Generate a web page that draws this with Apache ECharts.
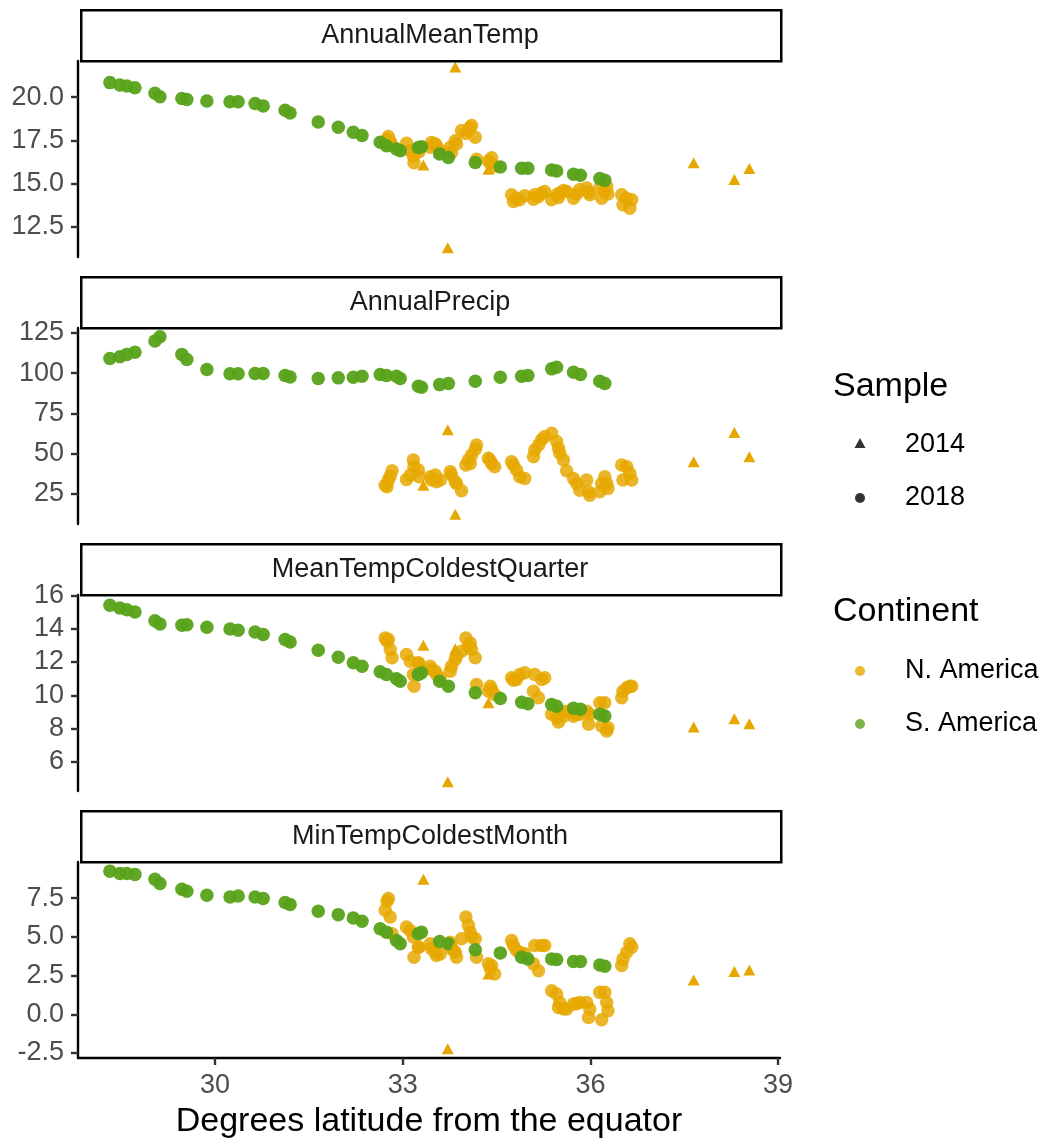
<!DOCTYPE html>
<html>
<head>
<meta charset="utf-8">
<script src="https://cdn.jsdelivr.net/npm/echarts/dist/echarts.min.js"></script>
<style>
html,body{margin:0;padding:0;background:#ffffff;}
#chart{width:1046px;height:1143px;}
</style>
</head>
<body>
<div id="chart"></div>
<script>
// ---------------- DATA ----------------
const facets = ["AnnualMeanTemp", "AnnualPrecip", "MeanTempColdestQuarter", "MinTempColdestMonth"];
const xTicks = [30, 33, 36, 39];
const yTicksAnnualMeanTemp = [12.5, 15.0, 17.5, 20.0];
const yTicksAnnualPrecip = [25, 50, 75, 100, 125];
const yTicksMeanTempColdestQuarter = [6, 8, 10, 12, 14, 16];
const yTicksMinTempColdestMonth = [-2.5, 0.0, 2.5, 5.0, 7.5];

// S. America, 2018 sample
const latSA = [28.32, 28.48, 28.59, 28.72, 29.04, 29.12, 29.47, 29.55, 29.87, 30.24, 30.37, 30.64, 30.77, 31.12, 31.20, 31.65, 31.97, 32.21, 32.35, 32.64, 32.74, 32.90, 32.96, 33.25, 33.30, 33.59, 33.73, 34.16, 34.56, 34.90, 35.00, 35.38, 35.46, 35.73, 35.84, 36.15, 36.23];
const saAnnualMeanTemp = [20.84, 20.70, 20.64, 20.54, 20.22, 20.02, 19.92, 19.87, 19.78, 19.73, 19.73, 19.63, 19.49, 19.24, 19.08, 18.56, 18.26, 17.97, 17.78, 17.39, 17.19, 17.00, 16.90, 17.09, 17.13, 16.71, 16.51, 16.22, 15.96, 15.89, 15.89, 15.79, 15.73, 15.54, 15.48, 15.30, 15.19];
const saAnnualPrecip = [109.2, 110.2, 111.7, 113.1, 120.0, 122.7, 111.7, 108.5, 102.3, 99.6, 99.6, 99.8, 99.8, 98.6, 97.7, 96.7, 97.1, 97.5, 98.1, 99.2, 98.6, 98.1, 96.7, 91.9, 91.3, 92.9, 93.6, 95.0, 97.5, 98.1, 98.6, 102.7, 103.7, 100.6, 99.2, 95.0, 93.6];
const saMeanTempColdestQuarter = [15.40, 15.24, 15.14, 15.00, 14.48, 14.28, 14.20, 14.24, 14.08, 13.98, 13.90, 13.80, 13.65, 13.35, 13.20, 12.70, 12.29, 11.95, 11.75, 11.41, 11.25, 10.99, 10.85, 11.25, 11.35, 10.85, 10.55, 10.15, 9.81, 9.59, 9.49, 9.45, 9.35, 9.22, 9.16, 8.86, 8.76];
const saMinTempColdestMonth = [9.25, 9.10, 9.10, 9.04, 8.73, 8.45, 8.08, 7.95, 7.69, 7.58, 7.65, 7.58, 7.48, 7.22, 7.09, 6.66, 6.44, 6.22, 6.01, 5.53, 5.31, 4.77, 4.56, 5.21, 5.31, 4.71, 4.56, 4.17, 3.97, 3.69, 3.58, 3.58, 3.54, 3.41, 3.41, 3.19, 3.10];

// N. America, 2018 sample
const latNA = [
  32.72, 32.75, 32.77, 32.80, 32.83,
  33.06, 33.12, 33.17, 33.18, 33.25, 33.26,
  33.44, 33.46, 33.52, 33.54, 33.60,
  33.76, 33.78, 33.84, 33.86, 33.94,
  34.01, 34.05, 34.08, 34.10, 34.16, 34.18,
  34.37, 34.40, 34.42, 34.47,
  34.74, 34.77, 34.82, 34.87, 34.95,
  35.09, 35.11, 35.17, 35.22, 35.27, 35.38, 35.46, 35.49, 35.51, 35.57,
  35.62, 35.73, 35.78, 35.83, 35.94, 35.97, 35.99, 36.15, 36.18, 36.23, 36.26, 36.28,
  36.50, 36.52, 36.58, 36.63, 36.66];
const naAnnualMeanTemp = [
  17.38, 17.55, 17.72, 17.45, 17.20,
  17.33, 16.90, 16.60, 16.21, 17.00, 16.85,
  17.10, 17.38, 17.30, 17.19, 16.90,
  17.10, 16.80, 17.48, 17.29, 18.07,
  17.90, 18.10, 18.26, 18.36, 17.68, 16.41,
  16.31, 16.20, 16.50, 16.00,
  14.36, 13.97, 14.16, 14.07, 14.30,
  14.10, 14.36, 14.25, 14.46, 14.55, 14.07, 14.36, 14.20, 14.46, 14.60,
  14.55, 14.16, 14.40, 14.66, 14.75, 14.50, 14.36, 14.75, 14.16, 14.55, 14.85, 14.40,
  14.36, 13.78, 14.16, 13.58, 14.07];
const naAnnualPrecip = [
  30.4, 29.4, 33.6, 36.0, 39.4,
  33.9, 36.7, 46.1, 41.9, 39.8, 35.6,
  35.6, 33.6, 36.7, 32.5, 33.6,
  38.8, 36.7, 32.5, 31.4, 26.9,
  43.0, 46.0, 43.9, 49.2, 52.7, 55.4,
  47.1, 45.5, 43.9, 41.9,
  45.0, 42.9, 39.8, 35.6, 34.6,
  48.1, 52.3, 55.4, 58.6, 60.6, 62.7, 57.5, 53.3, 50.2, 46.1,
  39.4, 34.6, 31.4, 27.3, 33.6, 26.3, 24.2, 26.3, 31.4, 35.6, 31.4, 28.3,
  42.9, 33.6, 41.9, 37.7, 33.6];
const naMeanTempColdestQuarter = [
  13.44, 13.25, 13.35, 12.75, 12.25,
  12.45, 12.05, 11.25, 10.55, 11.95, 11.89,
  11.75, 11.55, 11.45, 11.25, 11.05,
  11.45, 11.75, 12.15, 12.35, 12.65,
  13.44, 12.95, 13.14, 12.75, 12.25, 10.65,
  10.25, 10.55, 10.35, 10.05,
  11.05, 10.90, 10.95, 11.25, 11.35,
  10.25, 11.25, 9.85, 10.95, 11.05, 8.86, 8.65, 8.40, 9.00, 8.75,
  9.05, 8.75, 8.86, 8.86, 9.05, 8.26, 8.86, 9.55, 8.16, 9.55, 7.86, 8.05,
  9.85, 10.25, 10.45, 10.55, 10.55];
const naMinTempColdestMonth = [
  6.72, 7.30, 7.48, 6.29, 5.21,
  5.64, 5.42, 4.99, 3.69, 4.34, 4.34,
  4.56, 4.23, 4.01, 3.80, 3.90,
  4.66, 4.23, 4.01, 3.69, 4.88,
  6.29, 5.75, 5.31, 5.00, 4.88, 3.69,
  3.26, 2.94, 3.15, 2.61,
  4.77, 4.45, 4.12, 4.01, 3.91,
  3.26, 4.45, 2.82, 4.45, 4.45, 1.53, 1.31, 0.44, 0.77, 0.34,
  0.34, 0.66, 0.70, 0.77, 0.77, -0.20, 0.34, 1.42, -0.35, 1.42, 0.77, 0.23,
  3.15, 3.58, 4.01, 4.56, 4.34];

// N. America, 2014 sample
const lat2014 = [33.33, 33.72, 33.84, 34.37, 37.65, 38.30, 38.54];
const s14AnnualMeanTemp = [16.08, 11.29, 21.74, 15.83, 16.21, 15.24, 15.88];
const s14AnnualPrecip = [30.4, 64.8, 12.3, 48.1, 45.0, 63.1, 48.1];
const s14MeanTempColdestQuarter = [13.0, 4.82, 12.8, 9.55, 8.10, 8.59, 8.29];
const s14MinTempColdestMonth = [8.73, -2.22, 4.40, 2.61, 2.22, 2.76, 2.87];

// ---------------- LAYOUT / STYLE ----------------
const ORANGE = '#E6A800';
const GREEN = '#58A21A';
const FONT = '"Liberation Sans", Arial, Helvetica, sans-serif';
const panelTops = [61, 328, 595, 862];
const panelH = 196;
const panelLeft = 78;
const panelW = 702;
const xMin = 27.81, xMax = 39.03;
const yRanges = [[10.76, 22.09], [6.25, 128.1], [4.26, 16.02], [-2.82, 9.84]];
const yTicks = [yTicksAnnualMeanTemp, yTicksAnnualPrecip, yTicksMeanTempColdestQuarter, yTicksMinTempColdestMonth];
const yFmt = [v => v.toFixed(1), v => String(v), v => String(v), v => v.toFixed(1)];
const naVals = [naAnnualMeanTemp, naAnnualPrecip, naMeanTempColdestQuarter, naMinTempColdestMonth];
const saVals = [saAnnualMeanTemp, saAnnualPrecip, saMeanTempColdestQuarter, saMinTempColdestMonth];
const s14Vals = [s14AnnualMeanTemp, s14AnnualPrecip, s14MeanTempColdestQuarter, s14MinTempColdestMonth];

const grids = [], xAxes = [], yAxes = [], series = [], graphics = [];
for (let i = 0; i < 4; i++) {
  const last = i === 3;
  grids.push({left: panelLeft, top: panelTops[i], width: panelW, height: panelH, containLabel: false});
  xAxes.push({
    type: 'value', gridIndex: i, min: xMin, max: xMax,
    axisLine: {show: last, onZero: false, lineStyle: {color: '#000', width: 2.4}},
    axisTick: {show: last, length: 7, customValues: xTicks, lineStyle: {color: '#333', width: 2.4}},
    axisLabel: {show: last, customValues: xTicks, margin: 14, color: '#4D4D4D', fontSize: 27, fontFamily: FONT},
    splitLine: {show: false}
  });
  yAxes.push({
    type: 'value', gridIndex: i, min: yRanges[i][0], max: yRanges[i][1],
    axisLine: {show: true, onZero: false, lineStyle: {color: '#000', width: 2.4}},
    axisTick: {show: true, length: 7, customValues: yTicks[i], lineStyle: {color: '#333', width: 2.4}},
    axisLabel: {show: true, customValues: yTicks[i], formatter: yFmt[i], margin: 14, color: '#4D4D4D', fontSize: 27, fontFamily: FONT},
    splitLine: {show: false}
  });
  series.push({
    type: 'scatter', xAxisIndex: i, yAxisIndex: i, z: 2, silent: true,
    symbol: 'circle', symbolSize: 13.5,
    itemStyle: {color: ORANGE, opacity: 0.85},
    data: latNA.map((x, j) => [x, naVals[i][j]])
  });
  series.push({
    type: 'scatter', xAxisIndex: i, yAxisIndex: i, z: 3, silent: true,
    symbol: 'circle', symbolSize: 13.5,
    itemStyle: {color: GREEN, opacity: 0.95},
    data: latSA.map((x, j) => [x, saVals[i][j]])
  });
  series.push({
    type: 'scatter', xAxisIndex: i, yAxisIndex: i, z: 4, silent: true,
    symbol: 'triangle', symbolSize: [12, 11],
    itemStyle: {color: ORANGE, opacity: 1},
    data: lat2014.map((x, j) => [x, s14Vals[i][j]])
  });
  // strip header
  graphics.push({
    type: 'rect', left: 80, top: panelTops[i] - 52,
    shape: {width: 700, height: 51},
    style: {fill: '#fff', stroke: '#000', lineWidth: 2.5}, z: 10
  });
  graphics.push({
    type: 'text', x: 430, y: panelTops[i] - 25,
    style: {text: facets[i], fill: '#1A1A1A', font: '27px ' + FONT, textAlign: 'center', textVerticalAlign: 'middle'}, z: 11
  });
}

// x axis title
graphics.push({type: 'text', x: 429, y: 1122,
  style: {text: 'Degrees latitude from the equator', fill: '#000', font: '34px ' + FONT, textAlign: 'center', textVerticalAlign: 'middle'}});

// legend
const lg = [
  {type: 'text', x: 833, y: 387, style: {text: 'Sample', fill: '#000', font: '34px ' + FONT, textVerticalAlign: 'middle'}},
  {type: 'polygon', shape: {points: [[854.5, 448], [865.5, 448], [860, 438]]}, style: {fill: '#333'}},
  {type: 'text', x: 905, y: 445, style: {text: '2014', fill: '#000', font: '27px ' + FONT, textVerticalAlign: 'middle'}},
  {type: 'circle', shape: {cx: 860, cy: 498, r: 5}, style: {fill: 'rgba(0,0,0,0.8)'}},
  {type: 'text', x: 905, y: 498, style: {text: '2018', fill: '#000', font: '27px ' + FONT, textVerticalAlign: 'middle'}},
  {type: 'text', x: 833, y: 612, style: {text: 'Continent', fill: '#000', font: '34px ' + FONT, textVerticalAlign: 'middle'}},
  {type: 'circle', shape: {cx: 860, cy: 671, r: 5}, style: {fill: ORANGE, opacity: 0.8}},
  {type: 'text', x: 905, y: 671, style: {text: 'N. America', fill: '#000', font: '27px ' + FONT, textVerticalAlign: 'middle'}},
  {type: 'circle', shape: {cx: 860, cy: 724, r: 5}, style: {fill: GREEN, opacity: 0.8}},
  {type: 'text', x: 905, y: 724, style: {text: 'S. America', fill: '#000', font: '27px ' + FONT, textVerticalAlign: 'middle'}}
];
lg.forEach(g => graphics.push(g));

const chart = echarts.init(document.getElementById('chart'), null, {renderer: 'canvas'});
chart.setOption({
  backgroundColor: '#ffffff',
  animation: false,
  textStyle: {fontFamily: FONT},
  grid: grids,
  xAxis: xAxes,
  yAxis: yAxes,
  series: series,
  graphic: graphics
});
</script>
</body>
</html>
